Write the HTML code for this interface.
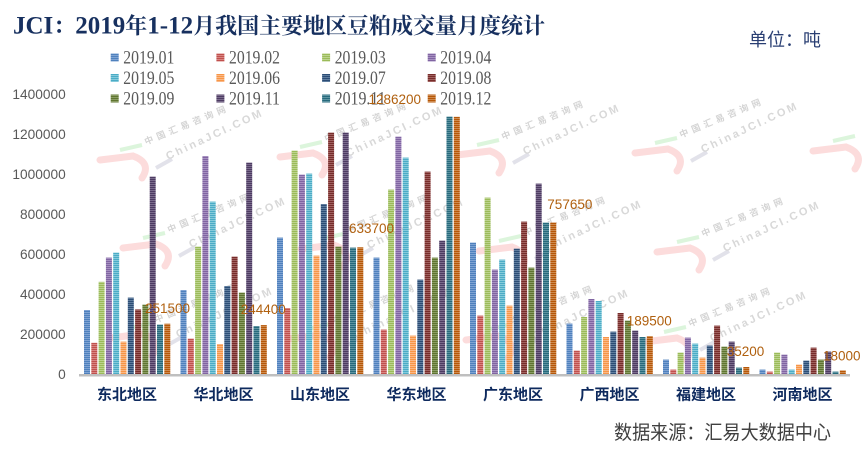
<!DOCTYPE html>
<html>
<head>
<meta charset="utf-8">
<style>
html,body{margin:0;padding:0;background:#fff;}
svg{display:block;}
</style>
</head>
<body>
<svg width="868" height="454" viewBox="0 0 868 454" xmlns="http://www.w3.org/2000/svg">
<defs>
<pattern id="p0" width="4" height="2" patternUnits="userSpaceOnUse"><rect width="4" height="2" fill="#4F81BD"/><rect y="1" width="4" height="1" fill="#7FA3D3"/></pattern>
<pattern id="p1" width="4" height="2" patternUnits="userSpaceOnUse"><rect width="4" height="2" fill="#C0504D"/><rect y="1" width="4" height="1" fill="#D88582"/></pattern>
<pattern id="p2" width="4" height="2" patternUnits="userSpaceOnUse"><rect width="4" height="2" fill="#9BBB59"/><rect y="1" width="4" height="1" fill="#BCD38E"/></pattern>
<pattern id="p3" width="4" height="2" patternUnits="userSpaceOnUse"><rect width="4" height="2" fill="#8064A2"/><rect y="1" width="4" height="1" fill="#A690C0"/></pattern>
<pattern id="p4" width="4" height="2" patternUnits="userSpaceOnUse"><rect width="4" height="2" fill="#4BACC6"/><rect y="1" width="4" height="1" fill="#85CADB"/></pattern>
<pattern id="p5" width="4" height="2" patternUnits="userSpaceOnUse"><rect width="4" height="2" fill="#F79646"/><rect y="1" width="4" height="1" fill="#FAB887"/></pattern>
<pattern id="p6" width="4" height="2" patternUnits="userSpaceOnUse"><rect width="4" height="2" fill="#2C4D75"/><rect y="1" width="4" height="1" fill="#5F7D9F"/></pattern>
<pattern id="p7" width="4" height="2" patternUnits="userSpaceOnUse"><rect width="4" height="2" fill="#772C2A"/><rect y="1" width="4" height="1" fill="#A0615F"/></pattern>
<pattern id="p8" width="4" height="2" patternUnits="userSpaceOnUse"><rect width="4" height="2" fill="#5F7530"/><rect y="1" width="4" height="1" fill="#8A9C63"/></pattern>
<pattern id="p9" width="4" height="2" patternUnits="userSpaceOnUse"><rect width="4" height="2" fill="#4D3B62"/><rect y="1" width="4" height="1" fill="#7A6B8C"/></pattern>
<pattern id="p10" width="4" height="2" patternUnits="userSpaceOnUse"><rect width="4" height="2" fill="#276A7C"/><rect y="1" width="4" height="1" fill="#5D93A1"/></pattern>
<pattern id="p11" width="4" height="2" patternUnits="userSpaceOnUse"><rect width="4" height="2" fill="#B65708"/><rect y="1" width="4" height="1" fill="#CE8A4E"/></pattern>
</defs>

<!-- Watermarks -->
<g font-family="'Liberation Sans','Noto Sans CJK SC',sans-serif" font-weight="bold">
<g transform="translate(100,155)"><path d="M0,5 L33,1 Q52,8 42,23" stroke="#fcdcdc" stroke-width="7" fill="none" stroke-linecap="round"/><line x1="20" y1="-5" x2="42" y2="-10" stroke="#dcf5dc" stroke-width="4"/><line x1="56" y1="13" x2="72" y2="4" stroke="#e2e2ea" stroke-width="4"/><text transform="translate(46,-10) rotate(-22.5)" font-size="9" letter-spacing="4" fill="#d4d4d4">中国汇易咨询网</text><text transform="translate(68,5) rotate(-25)" font-size="11" letter-spacing="2.5" fill="#d8d8d8">ChinaJCI.COM</text></g>
<g transform="translate(280,152)"><path d="M0,5 L33,1 Q52,8 42,23" stroke="#fcdcdc" stroke-width="7" fill="none" stroke-linecap="round"/><line x1="20" y1="-5" x2="42" y2="-10" stroke="#dcf5dc" stroke-width="4"/><line x1="56" y1="13" x2="72" y2="4" stroke="#e2e2ea" stroke-width="4"/><text transform="translate(46,-10) rotate(-22.5)" font-size="9" letter-spacing="4" fill="#d4d4d4">中国汇易咨询网</text><text transform="translate(68,5) rotate(-25)" font-size="11" letter-spacing="2.5" fill="#d8d8d8">ChinaJCI.COM</text></g>
<g transform="translate(457,150)"><path d="M0,5 L33,1 Q52,8 42,23" stroke="#fcdcdc" stroke-width="7" fill="none" stroke-linecap="round"/><line x1="20" y1="-5" x2="42" y2="-10" stroke="#dcf5dc" stroke-width="4"/><line x1="56" y1="13" x2="72" y2="4" stroke="#e2e2ea" stroke-width="4"/><text transform="translate(46,-10) rotate(-22.5)" font-size="9" letter-spacing="4" fill="#d4d4d4">中国汇易咨询网</text><text transform="translate(68,5) rotate(-25)" font-size="11" letter-spacing="2.5" fill="#d8d8d8">ChinaJCI.COM</text></g>
<g transform="translate(635,148)"><path d="M0,5 L33,1 Q52,8 42,23" stroke="#fcdcdc" stroke-width="7" fill="none" stroke-linecap="round"/><line x1="20" y1="-5" x2="42" y2="-10" stroke="#dcf5dc" stroke-width="4"/><line x1="56" y1="13" x2="72" y2="4" stroke="#e2e2ea" stroke-width="4"/><text transform="translate(46,-10) rotate(-22.5)" font-size="9" letter-spacing="4" fill="#d4d4d4">中国汇易咨询网</text><text transform="translate(68,5) rotate(-25)" font-size="11" letter-spacing="2.5" fill="#d8d8d8">ChinaJCI.COM</text></g>
<g transform="translate(813,146)"><path d="M0,5 L33,1 Q52,8 42,23" stroke="#fcdcdc" stroke-width="7" fill="none" stroke-linecap="round"/><line x1="20" y1="-5" x2="42" y2="-10" stroke="#dcf5dc" stroke-width="4"/></g>
<g transform="translate(123,243)"><path d="M0,5 L33,1 Q52,8 42,23" stroke="#fcdcdc" stroke-width="7" fill="none" stroke-linecap="round"/><line x1="20" y1="-5" x2="42" y2="-10" stroke="#dcf5dc" stroke-width="4"/><line x1="56" y1="13" x2="72" y2="4" stroke="#e2e2ea" stroke-width="4"/><text transform="translate(46,-10) rotate(-22.5)" font-size="9" letter-spacing="4" fill="#d4d4d4">中国汇易咨询网</text><text transform="translate(68,5) rotate(-25)" font-size="11" letter-spacing="2.5" fill="#d8d8d8">ChinaJCI.COM</text></g>
<g transform="translate(301,244)"><path d="M0,5 L33,1 Q52,8 42,23" stroke="#fcdcdc" stroke-width="7" fill="none" stroke-linecap="round"/><line x1="20" y1="-5" x2="42" y2="-10" stroke="#dcf5dc" stroke-width="4"/><line x1="56" y1="13" x2="72" y2="4" stroke="#e2e2ea" stroke-width="4"/><text transform="translate(46,-10) rotate(-22.5)" font-size="9" letter-spacing="4" fill="#d4d4d4">中国汇易咨询网</text><text transform="translate(68,5) rotate(-25)" font-size="11" letter-spacing="2.5" fill="#d8d8d8">ChinaJCI.COM</text></g>
<g transform="translate(479,246)"><path d="M0,5 L33,1 Q52,8 42,23" stroke="#fcdcdc" stroke-width="7" fill="none" stroke-linecap="round"/><line x1="20" y1="-5" x2="42" y2="-10" stroke="#dcf5dc" stroke-width="4"/><line x1="56" y1="13" x2="72" y2="4" stroke="#e2e2ea" stroke-width="4"/><text transform="translate(46,-10) rotate(-22.5)" font-size="9" letter-spacing="4" fill="#d4d4d4">中国汇易咨询网</text><text transform="translate(68,5) rotate(-25)" font-size="11" letter-spacing="2.5" fill="#d8d8d8">ChinaJCI.COM</text></g>
<g transform="translate(657,247)"><path d="M0,5 L33,1 Q52,8 42,23" stroke="#fcdcdc" stroke-width="7" fill="none" stroke-linecap="round"/><line x1="20" y1="-5" x2="42" y2="-10" stroke="#dcf5dc" stroke-width="4"/><line x1="56" y1="13" x2="72" y2="4" stroke="#e2e2ea" stroke-width="4"/><text transform="translate(46,-10) rotate(-22.5)" font-size="9" letter-spacing="4" fill="#d4d4d4">中国汇易咨询网</text><text transform="translate(68,5) rotate(-25)" font-size="11" letter-spacing="2.5" fill="#d8d8d8">ChinaJCI.COM</text></g>
<g transform="translate(110,333)"><path d="M0,5 L33,1 Q52,8 42,23" stroke="#fcdcdc" stroke-width="7" fill="none" stroke-linecap="round"/><line x1="20" y1="-5" x2="42" y2="-10" stroke="#dcf5dc" stroke-width="4"/><line x1="56" y1="13" x2="72" y2="4" stroke="#e2e2ea" stroke-width="4"/><text transform="translate(46,-10) rotate(-22.5)" font-size="9" letter-spacing="4" fill="#d4d4d4">中国汇易咨询网</text><text transform="translate(68,5) rotate(-25)" font-size="11" letter-spacing="2.5" fill="#d8d8d8">ChinaJCI.COM</text></g>
<g transform="translate(288,334)"><path d="M0,5 L33,1 Q52,8 42,23" stroke="#fcdcdc" stroke-width="7" fill="none" stroke-linecap="round"/><line x1="20" y1="-5" x2="42" y2="-10" stroke="#dcf5dc" stroke-width="4"/><line x1="56" y1="13" x2="72" y2="4" stroke="#e2e2ea" stroke-width="4"/><text transform="translate(46,-10) rotate(-22.5)" font-size="9" letter-spacing="4" fill="#d4d4d4">中国汇易咨询网</text><text transform="translate(68,5) rotate(-25)" font-size="11" letter-spacing="2.5" fill="#d8d8d8">ChinaJCI.COM</text></g>
<g transform="translate(466,335)"><path d="M0,5 L33,1 Q52,8 42,23" stroke="#fcdcdc" stroke-width="7" fill="none" stroke-linecap="round"/><line x1="20" y1="-5" x2="42" y2="-10" stroke="#dcf5dc" stroke-width="4"/><line x1="56" y1="13" x2="72" y2="4" stroke="#e2e2ea" stroke-width="4"/><text transform="translate(46,-10) rotate(-22.5)" font-size="9" letter-spacing="4" fill="#d4d4d4">中国汇易咨询网</text><text transform="translate(68,5) rotate(-25)" font-size="11" letter-spacing="2.5" fill="#d8d8d8">ChinaJCI.COM</text></g>
<g transform="translate(644,337)"><path d="M0,5 L33,1 Q52,8 42,23" stroke="#fcdcdc" stroke-width="7" fill="none" stroke-linecap="round"/><line x1="20" y1="-5" x2="42" y2="-10" stroke="#dcf5dc" stroke-width="4"/><line x1="56" y1="13" x2="72" y2="4" stroke="#e2e2ea" stroke-width="4"/><text transform="translate(46,-10) rotate(-22.5)" font-size="9" letter-spacing="4" fill="#d4d4d4">中国汇易咨询网</text><text transform="translate(68,5) rotate(-25)" font-size="11" letter-spacing="2.5" fill="#d8d8d8">ChinaJCI.COM</text></g>
</g>

<!-- Title -->
<text x="13" y="33.5" fill="#17305F" font-weight="bold" font-family="'Liberation Serif','Noto Serif CJK SC',serif" textLength="532" lengthAdjust="spacingAndGlyphs"><tspan font-size="25">JCI</tspan><tspan font-size="22">：</tspan><tspan font-size="25">2019</tspan><tspan font-size="22">年</tspan><tspan font-size="25">1-12</tspan><tspan font-size="22">月我国主要地区豆粕成交量月度统计</tspan></text>

<!-- Unit -->
<text x="749" y="45.8" font-size="18" fill="#2A3F73" font-family="'Liberation Sans','Noto Sans CJK SC',sans-serif" textLength="72" lengthAdjust="spacingAndGlyphs">单位：吨</text>

<!-- Legend -->
<g font-family="'Liberation Serif',serif" font-size="18.5" fill="#595959">
<rect x="110.7" y="53.5" width="8" height="8" fill="url(#p0)"/><text x="123.3" y="63.5" textLength="51" lengthAdjust="spacingAndGlyphs">2019.01</text>
<rect x="216.4" y="53.5" width="8" height="8" fill="url(#p1)"/><text x="229" y="63.5" textLength="51" lengthAdjust="spacingAndGlyphs">2019.02</text>
<rect x="322.1" y="53.5" width="8" height="8" fill="url(#p2)"/><text x="334.7" y="63.5" textLength="51" lengthAdjust="spacingAndGlyphs">2019.03</text>
<rect x="427.7" y="53.5" width="8" height="8" fill="url(#p3)"/><text x="440.3" y="63.5" textLength="51" lengthAdjust="spacingAndGlyphs">2019.04</text>
<rect x="110.7" y="74" width="8" height="8" fill="url(#p4)"/><text x="123.3" y="84" textLength="51" lengthAdjust="spacingAndGlyphs">2019.05</text>
<rect x="216.4" y="74" width="8" height="8" fill="url(#p5)"/><text x="229" y="84" textLength="51" lengthAdjust="spacingAndGlyphs">2019.06</text>
<rect x="322.1" y="74" width="8" height="8" fill="url(#p6)"/><text x="334.7" y="84" textLength="51" lengthAdjust="spacingAndGlyphs">2019.07</text>
<rect x="427.7" y="74" width="8" height="8" fill="url(#p7)"/><text x="440.3" y="84" textLength="51" lengthAdjust="spacingAndGlyphs">2019.08</text>
<rect x="110.7" y="94.5" width="8" height="8" fill="url(#p8)"/><text x="123.3" y="104.5" textLength="51" lengthAdjust="spacingAndGlyphs">2019.09</text>
<rect x="216.4" y="94.5" width="8" height="8" fill="url(#p9)"/><text x="229" y="104.5" textLength="51" lengthAdjust="spacingAndGlyphs">2019.11</text>
<rect x="322.1" y="94.5" width="8" height="8" fill="url(#p10)"/><text x="334.7" y="104.5" textLength="51" lengthAdjust="spacingAndGlyphs">2019.11</text>
<rect x="427.7" y="94.5" width="8" height="8" fill="url(#p11)"/><text x="440.3" y="104.5" textLength="51" lengthAdjust="spacingAndGlyphs">2019.12</text>
</g>

<!-- Y axis labels -->
<g font-family="'Liberation Sans',sans-serif" font-size="13.7" fill="#595959" text-anchor="end">
<text x="65.7" y="98.9">1400000</text>
<text x="65.7" y="138.9">1200000</text>
<text x="65.7" y="178.9">1000000</text>
<text x="65.7" y="218.9">800000</text>
<text x="65.7" y="258.9">600000</text>
<text x="65.7" y="298.9">400000</text>
<text x="65.7" y="338.9">200000</text>
<text x="65.7" y="378.9">0</text>
</g>

<!-- Bars -->
<g transform="translate(84,374) scale(1,-1)">
<rect x="0" width="6" height="64" fill="url(#p0)"/><rect x="7.3" width="6" height="31.2" fill="url(#p1)"/><rect x="14.6" width="6" height="92.2" fill="url(#p2)"/><rect x="21.9" width="6" height="116.4" fill="url(#p3)"/><rect x="29.2" width="6" height="121.4" fill="url(#p4)"/><rect x="36.5" width="6" height="32.4" fill="url(#p5)"/><rect x="43.8" width="6" height="76.4" fill="url(#p6)"/><rect x="51.1" width="6" height="64.6" fill="url(#p7)"/><rect x="58.4" width="6" height="69.4" fill="url(#p8)"/><rect x="65.7" width="6" height="197.4" fill="url(#p9)"/><rect x="73" width="6" height="49.4" fill="url(#p10)"/><rect x="80.3" width="6" height="50.3" fill="url(#p11)"/>
</g>
<g transform="translate(180.5,374) scale(1,-1)">
<rect x="0" width="6" height="84" fill="url(#p0)"/><rect x="7.3" width="6" height="35.4" fill="url(#p1)"/><rect x="14.6" width="6" height="127.4" fill="url(#p2)"/><rect x="21.9" width="6" height="218" fill="url(#p3)"/><rect x="29.2" width="6" height="172.4" fill="url(#p4)"/><rect x="36.5" width="6" height="30" fill="url(#p5)"/><rect x="43.8" width="6" height="88" fill="url(#p6)"/><rect x="51.1" width="6" height="117.4" fill="url(#p7)"/><rect x="58.4" width="6" height="81.4" fill="url(#p8)"/><rect x="65.7" width="6" height="211.4" fill="url(#p9)"/><rect x="73" width="6" height="48" fill="url(#p10)"/><rect x="80.3" width="6" height="48.9" fill="url(#p11)"/>
</g>
<g transform="translate(277,374) scale(1,-1)">
<rect x="0" width="6" height="136.4" fill="url(#p0)"/><rect x="7.3" width="6" height="66" fill="url(#p1)"/><rect x="14.6" width="6" height="223.4" fill="url(#p2)"/><rect x="21.9" width="6" height="199.4" fill="url(#p3)"/><rect x="29.2" width="6" height="200.4" fill="url(#p4)"/><rect x="36.5" width="6" height="118.4" fill="url(#p5)"/><rect x="43.8" width="6" height="170" fill="url(#p6)"/><rect x="51.1" width="6" height="241.4" fill="url(#p7)"/><rect x="58.4" width="6" height="127.4" fill="url(#p8)"/><rect x="65.7" width="6" height="241.4" fill="url(#p9)"/><rect x="73" width="6" height="126.4" fill="url(#p10)"/><rect x="80.3" width="6" height="126.7" fill="url(#p11)"/>
</g>
<g transform="translate(373.5,374) scale(1,-1)">
<rect x="0" width="6" height="116.4" fill="url(#p0)"/><rect x="7.3" width="6" height="44.4" fill="url(#p1)"/><rect x="14.6" width="6" height="184.4" fill="url(#p2)"/><rect x="21.9" width="6" height="237.4" fill="url(#p3)"/><rect x="29.2" width="6" height="216.4" fill="url(#p4)"/><rect x="36.5" width="6" height="38.4" fill="url(#p5)"/><rect x="43.8" width="6" height="94.4" fill="url(#p6)"/><rect x="51.1" width="6" height="202.4" fill="url(#p7)"/><rect x="58.4" width="6" height="116.4" fill="url(#p8)"/><rect x="65.7" width="6" height="133.4" fill="url(#p9)"/><rect x="73" width="6" height="257.4" fill="url(#p10)"/><rect x="80.3" width="6" height="257.2" fill="url(#p11)"/>
</g>
<g transform="translate(470,374) scale(1,-1)">
<rect x="0" width="6" height="131.4" fill="url(#p0)"/><rect x="7.3" width="6" height="58.4" fill="url(#p1)"/><rect x="14.6" width="6" height="176.4" fill="url(#p2)"/><rect x="21.9" width="6" height="104.4" fill="url(#p3)"/><rect x="29.2" width="6" height="114.4" fill="url(#p4)"/><rect x="36.5" width="6" height="68.4" fill="url(#p5)"/><rect x="43.8" width="6" height="125.4" fill="url(#p6)"/><rect x="51.1" width="6" height="152.4" fill="url(#p7)"/><rect x="58.4" width="6" height="106.4" fill="url(#p8)"/><rect x="65.7" width="6" height="190.4" fill="url(#p9)"/><rect x="73" width="6" height="151.4" fill="url(#p10)"/><rect x="80.3" width="6" height="151.5" fill="url(#p11)"/>
</g>
<g transform="translate(566.5,374) scale(1,-1)">
<rect x="0" width="6" height="50.4" fill="url(#p0)"/><rect x="7.3" width="6" height="23.4" fill="url(#p1)"/><rect x="14.6" width="6" height="57" fill="url(#p2)"/><rect x="21.9" width="6" height="75" fill="url(#p3)"/><rect x="29.2" width="6" height="73" fill="url(#p4)"/><rect x="36.5" width="6" height="37" fill="url(#p5)"/><rect x="43.8" width="6" height="42.4" fill="url(#p6)"/><rect x="51.1" width="6" height="61" fill="url(#p7)"/><rect x="58.4" width="6" height="53.4" fill="url(#p8)"/><rect x="65.7" width="6" height="43.4" fill="url(#p9)"/><rect x="73" width="6" height="37" fill="url(#p10)"/><rect x="80.3" width="6" height="37.9" fill="url(#p11)"/>
</g>
<g transform="translate(663,374) scale(1,-1)">
<rect x="0" width="6" height="14.4" fill="url(#p0)"/><rect x="7.3" width="6" height="4.4" fill="url(#p1)"/><rect x="14.6" width="6" height="21.4" fill="url(#p2)"/><rect x="21.9" width="6" height="36.4" fill="url(#p3)"/><rect x="29.2" width="6" height="30.4" fill="url(#p4)"/><rect x="36.5" width="6" height="16.4" fill="url(#p5)"/><rect x="43.8" width="6" height="28.4" fill="url(#p6)"/><rect x="51.1" width="6" height="48.4" fill="url(#p7)"/><rect x="58.4" width="6" height="27.4" fill="url(#p8)"/><rect x="65.7" width="6" height="32.4" fill="url(#p9)"/><rect x="73" width="6" height="6.4" fill="url(#p10)"/><rect x="80.3" width="6" height="7" fill="url(#p11)"/>
</g>
<g transform="translate(759.5,374) scale(1,-1)">
<rect x="0" width="6" height="4.4" fill="url(#p0)"/><rect x="7.3" width="6" height="2.4" fill="url(#p1)"/><rect x="14.6" width="6" height="21.4" fill="url(#p2)"/><rect x="21.9" width="6" height="19.4" fill="url(#p3)"/><rect x="29.2" width="6" height="4.4" fill="url(#p4)"/><rect x="36.5" width="6" height="9.4" fill="url(#p5)"/><rect x="43.8" width="6" height="13.4" fill="url(#p6)"/><rect x="51.1" width="6" height="26.4" fill="url(#p7)"/><rect x="58.4" width="6" height="14.4" fill="url(#p8)"/><rect x="65.7" width="6" height="22.4" fill="url(#p9)"/><rect x="73" width="6" height="2.4" fill="url(#p10)"/><rect x="80.3" width="6" height="3.6" fill="url(#p11)"/>
</g>

<!-- X axis line -->
<rect x="79" y="374" width="771" height="2.5" fill="#BFBFBF"/>

<!-- Category labels -->
<g font-family="'Liberation Sans','Noto Sans CJK SC',sans-serif" font-size="15" font-weight="bold" fill="#0E2A5E" text-anchor="middle">
<text x="127" y="399.7">东北地区</text>
<text x="223.5" y="399.7">华北地区</text>
<text x="320" y="399.7">山东地区</text>
<text x="416.5" y="399.7">华东地区</text>
<text x="513" y="399.7">广东地区</text>
<text x="609.5" y="399.7">广西地区</text>
<text x="706" y="399.7">福建地区</text>
<text x="802.5" y="399.7">河南地区</text>
</g>

<!-- Data labels -->
<g font-family="'Liberation Sans',sans-serif" font-size="13.5" fill="#B0600F">
<text x="145" y="312.8">251500</text>
<text x="240.7" y="314">244400</text>
<text x="349" y="232.8">633700</text>
<text x="421" y="103.8" text-anchor="end">1286200</text>
<text x="547.3" y="208.8">757650</text>
<text x="626.7" y="325.5">189500</text>
<text x="726.7" y="355.8">35200</text>
<text x="823" y="360.5">18000</text>
</g>

<!-- Source -->
<text x="614" y="439" font-size="19.5" fill="#404040" font-family="'Liberation Sans','Noto Sans CJK SC',sans-serif" textLength="217" lengthAdjust="spacingAndGlyphs">数据来源：汇易大数据中心</text>
</svg>
</body>
</html>
